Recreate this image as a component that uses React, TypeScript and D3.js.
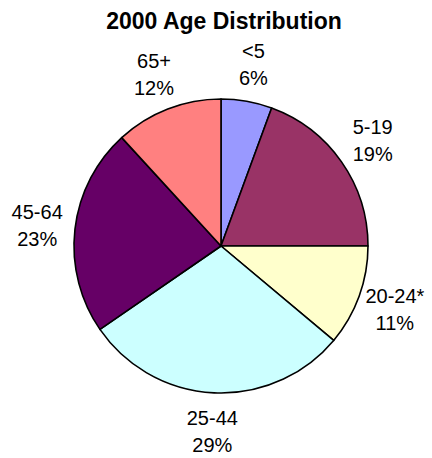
import React from "react";
import * as d3 from "d3";

const categories = ["<5", "5-19", "20-24*", "25-44", "45-64", "65+"];
const values = [5.6, 19.4, 11.1, 29.3, 22.8, 11.8];
const percentLabels = ["6%", "19%", "11%", "29%", "23%", "12%"];
const colors = ["#9999FF", "#993366", "#FFFFCC", "#CCFFFF", "#660066", "#FF8080"];
const title = "2000 Age Distribution";

const W = 432;
const H = 458;
const cx = 221;
const cy = 246;
const radius = 147;
const labelRadius = 185;
const font = "'Liberation Sans', Arial, Helvetica, sans-serif";

export default function App() {
  const data = categories.map((c, i) => ({ cat: c, value: values[i], pct: percentLabels[i], color: colors[i] }));
  const pie = d3.pie<any>().value((d) => d.value).sort(null);
  const arcs = pie(data);
  const arc = d3.arc<any>().innerRadius(0).outerRadius(radius);

  return (
    <svg width={W} height={H} style={{ position: "absolute", left: 0, top: 0, background: "#fff" }}>
      <text x={224} y={29} textAnchor="middle" fontFamily={font} fontWeight="bold" fontSize={23} fill="#000">
        {title}
      </text>
      <g transform={`translate(${cx},${cy})`}>
        {arcs.map((a, i) => (
          <path key={i} d={arc(a) || ""} fill={a.data.color} stroke="#000" strokeWidth={1.6} strokeLinejoin="round" />
        ))}
        {arcs.map((a, i) => {
          const mid = (a.startAngle + a.endAngle) / 2;
          const x = Math.sin(mid) * labelRadius;
          const y = -Math.cos(mid) * labelRadius;
          return (
            <text key={"l" + i} x={x} textAnchor="middle" fontFamily={font} fontSize={20} fill="#000">
              <tspan x={x} y={y - 6}>{a.data.cat}</tspan>
              <tspan x={x} y={y + 21}>{a.data.pct}</tspan>
            </text>
          );
        })}
      </g>
    </svg>
  );
}
